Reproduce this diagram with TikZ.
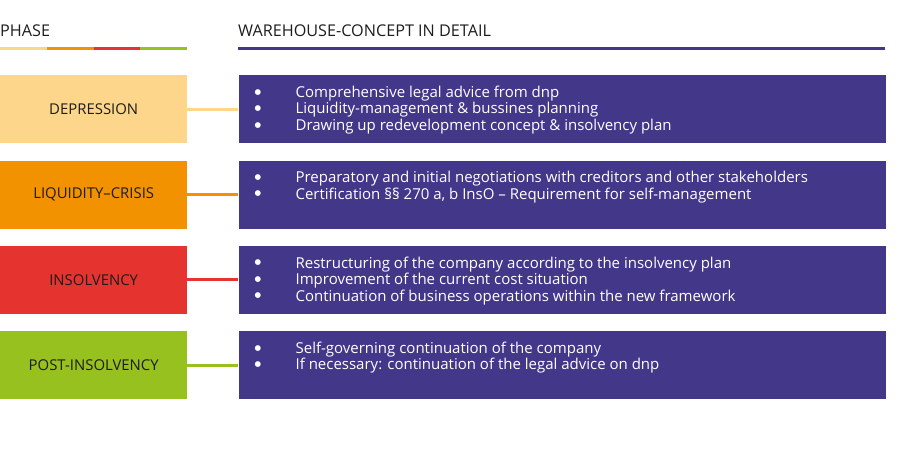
\documentclass[tikz,border=0pt]{standalone}
\usepackage{fontspec}
\setmainfont{Open Sans}
\newfontfamily\dotfont{DejaVu Sans}
\usetikzlibrary{positioning}
\definecolor{phpeach}{HTML}{FDD68B}
\definecolor{phorange}{HTML}{F39200}
\definecolor{phred}{HTML}{E53330}
\definecolor{phgreen}{HTML}{96C11F}
\definecolor{whviolet}{HTML}{433789}
\definecolor{phtext}{HTML}{1D1D1B}
% one bullet line inside a detail box
\newcommand{\wline}[1]{\hspace*{16pt}\makebox[41pt][l]{\raisebox{3.2pt}{\dotfont\fontsize{7.5}{8}\selectfont ●}}#1\strut\par}
\newcommand{\wlist}[1]{\parbox[c][68pt][t]{647pt}{\vspace*{10.5pt}#1}}
\tikzset{
  hdr/.style={inner sep=0pt, anchor=base west, text=phtext, font=\fontsize{16.2}{18}\selectfont},
  phbox/.style={minimum width=187pt, minimum height=68pt, inner sep=0pt,
                text=phtext, font=\fontsize{14.9}{16}\selectfont},
  whbox/.style={fill=whviolet, inner sep=0pt, text=white,
                font=\fontsize{15}{16.5}\selectfont},
  link/.style={line width=3pt},
  rule/.style={line width=3pt},
}
\begin{document}
\begin{tikzpicture}[x=1pt, y=1pt]
  \useasboundingbox (0,0) rectangle (900,-470);
  % headers
  \node[hdr] (phase) at (0,-36.5) {PHASE};
  \node[hdr] (concept) at (238,-36.5) {WAREHOUSE-CONCEPT IN DETAIL};
  \draw[rule, phpeach] (0,-48.5) -- (47,-48.5);
  \draw[rule, phorange] (47,-48.5) -- (94,-48.5);
  \draw[rule, phred] (94,-48.5) -- (140,-48.5);
  \draw[rule, phgreen] (140,-48.5) -- (187,-48.5);
  \draw[rule, whviolet] (238,-48.5) -- (885,-48.5);
  % phases
  \node[phbox, fill=phpeach, anchor=north west] (depr) at (0,-75) {DEPRESSION};
  \node[phbox, fill=phorange, below=17pt of depr] (liq) {LIQUIDITY--CRISIS};
  \node[phbox, fill=phred, below=17pt of liq] (insol) {INSOLVENCY};
  \node[phbox, fill=phgreen, below=17pt of insol] (post) {POST-INSOLVENCY};
  % details
  \node[whbox, right=51pt of depr] (deprtxt) {\wlist{%
    \wline{Comprehensive legal advice from dnp}
    \wline{Liquidity-management \& bussines planning}
    \wline{Drawing up redevelopment concept \& insolvency plan}}};
  \node[whbox, right=51pt of liq] (liqtxt) {\wlist{%
    \wline{Preparatory and initial negotiations with creditors and other stakeholders}
    \wline{Certification §§ 270 a, b InsO -- Requirement for self-management}}};
  \node[whbox, right=51pt of insol] (insoltxt) {\wlist{%
    \wline{Restructuring of the company according to the insolvency plan}
    \wline{Improvement of the current cost situation}
    \wline{Continuation of business operations within the new framework}}};
  \node[whbox, right=51pt of post] (posttxt) {\wlist{%
    \wline{Self-governing continuation of the company}
    \wline{If necessary: continuation of the legal advice on dnp}}};
  \draw[link, phpeach] (depr) -- (deprtxt);
  \draw[link, phorange] (liq) -- (liqtxt);
  \draw[link, phred] (insol) -- (insoltxt);
  \draw[link, phgreen] (post) -- (posttxt);
\end{tikzpicture}
\end{document}
